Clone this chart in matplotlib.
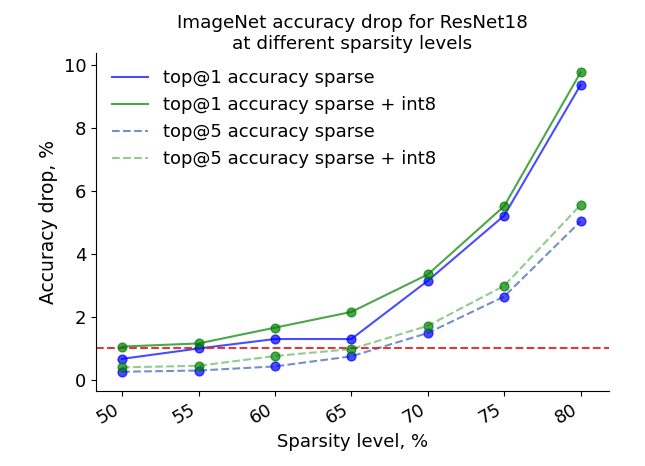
import numpy as np
import matplotlib
matplotlib.use("Agg")
import matplotlib.pyplot as plt

sparsity = [50, 55, 60, 65, 70, 75, 80]
top1_sparse = [0.67, 1.0, 1.3, 1.3, 3.15, 5.22, 9.37]
top1_int8 = [1.06, 1.16, 1.66, 2.16, 3.35, 5.52, 9.77]
top5_sparse = [0.26, 0.30, 0.43, 0.75, 1.49, 2.65, 5.04]
top5_int8 = [0.40, 0.45, 0.76, 0.98, 1.72, 2.99, 5.56]
threshold = 1.0

fig, ax = plt.subplots(figsize=(6.45, 4.66), dpi=100)
fig.subplots_adjust(left=0.149, right=0.944, top=0.886, bottom=0.161)

ax.plot(sparsity, top1_sparse, color="blue", alpha=0.7, label="top@1 accuracy sparse")
ax.plot(sparsity, top1_int8, color="green", alpha=0.7, label="top@1 accuracy sparse + int8")
ax.plot(sparsity, top5_sparse, color="#7390c9", linestyle="--", label="top@5 accuracy sparse")
ax.plot(sparsity, top5_int8, color="#8fcc8f", linestyle="--", label="top@5 accuracy sparse + int8")
for s, c in [(top1_sparse, "blue"), (top1_int8, "green"), (top5_sparse, "blue"), (top5_int8, "green")]:
    ax.scatter(sparsity, s, color=c, alpha=0.7, s=40, zorder=3)
ax.axhline(threshold, color="tab:red", linestyle="--", alpha=0.9)

ax.set_xticks(sparsity)
ax.set_xticklabels([str(v) for v in sparsity], rotation=30, ha="right", fontsize=13)
ax.tick_params(axis="y", labelsize=13)
ax.set_yticks([0, 2, 4, 6, 8, 10])
ax.set_ylim(-0.35, 10.38)
ax.set_xlim(48.3, 81.85)
ax.spines["top"].set_visible(False)
ax.spines["right"].set_visible(False)
ax.set_xlabel("Sparsity level, %", fontsize=13)
ax.set_ylabel("Accuracy drop, %", fontsize=13.5)
ax.set_title("ImageNet accuracy drop for ResNet18\nat different sparsity levels", fontsize=13.2, pad=2)
ax.legend(frameon=False, fontsize=13, loc="upper left")

fig.savefig("out.png", dpi=100)
